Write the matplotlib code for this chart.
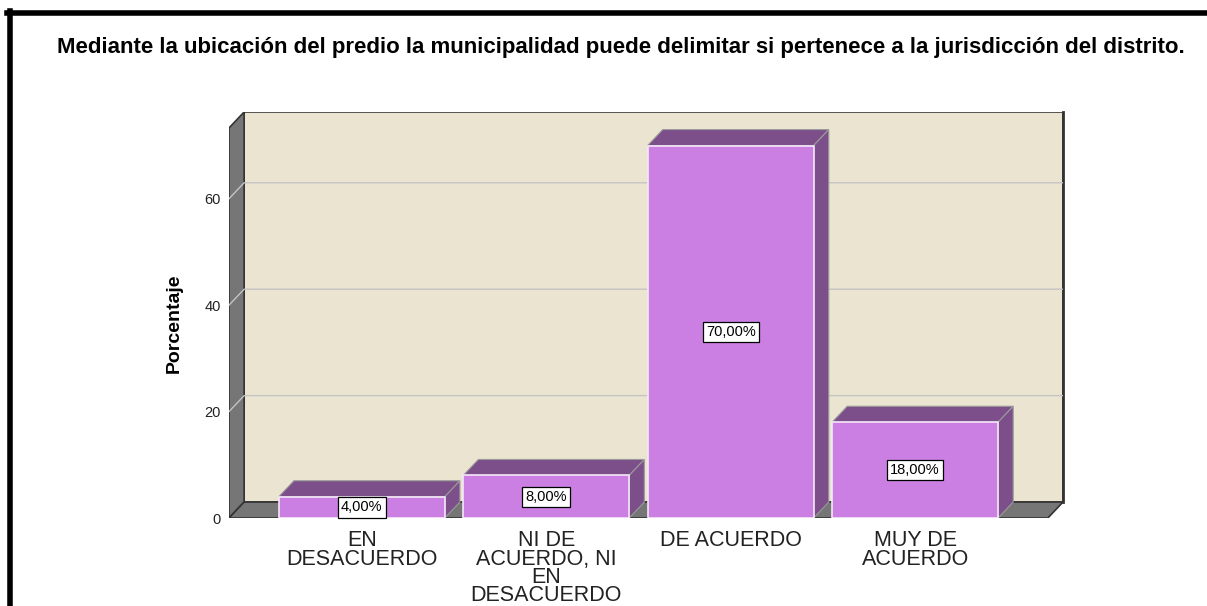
import matplotlib
matplotlib.use("Agg")
import matplotlib.pyplot as plt
from matplotlib.patches import Polygon, Rectangle
from matplotlib.lines import Line2D

plt.rcParams['font.family'] = ['Liberation Sans', 'DejaVu Sans']

# data
categorias = ['EN\nDESACUERDO', 'NI DE\nACUERDO, NI\nEN\nDESACUERDO', 'DE ACUERDO', 'MUY DE\nACUERDO']
porcentajes = [4.0, 8.0, 70.0, 18.0]
etiquetas = ['4,00%', '8,00%', '70,00%', '18,00%']
yticks = [0, 20, 40, 60]
titulo = 'Mediante la ubicación del predio la municipalidad puede delimitar si pertenece a la jurisdicción del distrito.'

# colours
c_wall = '#ebe4d0'
c_side = '#767676'
c_front = '#cb7fe3'
c_dark = '#7c4f8b'
c_grid = '#c4c4c4'

# 3d look: depth offset in data units
dx, dy = 0.082, 3.0
x0, x1 = -0.72, 3.72
ytop = 73.3
w = 0.9

fig = plt.figure(figsize=(12.07, 6.06), dpi=100)
ax = fig.add_axes([229/1207, 1 - 518/606, (1063 - 229)/1207, (518 - 112)/606])
ax.set_xlim(x0, x1 + dx)
ax.set_ylim(0, ytop + dy)
for s in ax.spines.values():
    s.set_visible(False)

# back wall
ax.add_patch(Rectangle((x0 + dx, dy), x1 - x0, ytop, facecolor=c_wall,
                       edgecolor='#3a3a3a', lw=1.2, zorder=1))
# left wall
ax.add_patch(Polygon([(x0, 0), (x0 + dx, dy), (x0 + dx, ytop + dy), (x0, ytop)],
                     facecolor=c_side, edgecolor='#333333', lw=1.2, zorder=2))
# floor
ax.add_patch(Polygon([(x0, 0), (x1, 0), (x1 + dx, dy), (x0 + dx, dy)],
                     facecolor=c_side, edgecolor='#333333', lw=1.2, zorder=2))
# right edge of back wall, darker
ax.plot([x1 + dx, x1 + dx], [dy, ytop + dy], color='#333333', lw=2, zorder=3, clip_on=False)

# gridlines
for v in yticks[1:]:
    ax.plot([x0, x0 + dx, x1 + dx], [v, v + dy, v + dy], color=c_grid, lw=1, zorder=3)

# bars
for i, v in enumerate(porcentajes):
    l, r = i - w/2, i + w/2
    ax.add_patch(Polygon([(l, v), (r, v), (r + dx, v + dy), (l + dx, v + dy)],
                         facecolor=c_dark, edgecolor='#9a9a9a', lw=0.8, zorder=4))
    ax.add_patch(Polygon([(r, 0), (r + dx, dy), (r + dx, v + dy), (r, v)],
                         facecolor=c_dark, edgecolor='#9a9a9a', lw=0.8, zorder=4))
    ax.add_patch(Rectangle((l, 0), w, v, facecolor=c_front, edgecolor='#f4e8f8',
                           lw=1.2, zorder=5))
    ax.text(i, v/2, etiquetas[i], ha='center', va='center', fontsize=10.5, zorder=6,
            bbox=dict(boxstyle='square,pad=0.22', facecolor='white', edgecolor='black', lw=0.9))

ax.set_yticks(yticks)
ax.set_yticklabels([str(t) for t in yticks], fontsize=10.5, color='#222222')
ax.set_xticks(range(len(categorias)))
ax.set_xticklabels(categorias, fontsize=15.5, color='#222222', linespacing=0.82)
ax.tick_params(axis='both', length=0)
ax.tick_params(axis='y', pad=6)
ax.tick_params(axis='x', pad=9)
ax.set_ylabel('Porcentaje', fontsize=14, fontweight='bold')
ax.yaxis.set_label_coords(-0.056, 0.48)

fig.text(621/1207, 1 - 47/606, titulo, ha='center', va='center', fontsize=16, fontweight='bold')

# outer black frame
fig.add_artist(Line2D([7/1207, 1], [1 - 13/606, 1 - 13/606], color='black', lw=4, transform=fig.transFigure))
fig.add_artist(Line2D([9.5/1207, 9.5/1207], [0, 1 - 11/606], color='black', lw=4, transform=fig.transFigure))

fig.savefig('out.png', dpi=100)
